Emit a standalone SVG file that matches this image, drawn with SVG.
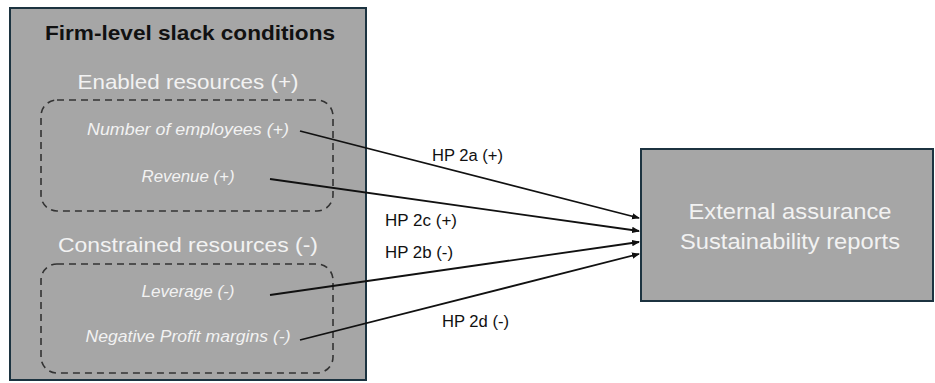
<svg xmlns="http://www.w3.org/2000/svg" width="935" height="383" viewBox="0 0 935 383">
<style>
.box{fill:#a6a6a6;stroke:#1c3340;stroke-width:2}
.dash{fill:none;stroke:#333;stroke-width:1.6;stroke-dasharray:7,5}
.t{font-family:"Liberation Sans",Arial,sans-serif;text-anchor:middle}
.light{fill:#f2f2f2}
.head{font-size:21px;font-weight:bold;fill:#111}
.sec{font-size:21px}
.item{font-size:16px;font-style:italic}
.lbl{font-size:16px;fill:#111;text-anchor:start}
.big{font-size:22px}
.conn{stroke:#111;stroke-width:1.8;fill:none;marker-end:url(#ah)}
</style>
<defs>
<marker id="ah" markerWidth="8" markerHeight="8" refX="7" refY="4" orient="auto" markerUnits="userSpaceOnUse">
<path d="M0,0.8 L8,4 L0,7.2 Z" fill="#111"/>
</marker>
</defs>
<rect width="935" height="383" fill="#fff"/>
<g id="firm-level">
<rect class="box" x="10" y="8" width="356" height="372"/>
<text class="t head" x="190" y="40" textLength="290" lengthAdjust="spacingAndGlyphs">Firm-level slack conditions</text>
</g>
<g id="enabled">
<text class="t sec light" x="188" y="89" textLength="221" lengthAdjust="spacingAndGlyphs">Enabled resources (+)</text>
<rect class="dash" x="41" y="100" width="292" height="111" rx="16"/>
</g>
<g id="employees"><text class="t item light" x="188" y="135" textLength="202" lengthAdjust="spacingAndGlyphs">Number of employees (+)</text></g>
<g id="revenue"><text class="t item light" x="188" y="182" textLength="93" lengthAdjust="spacingAndGlyphs">Revenue (+)</text></g>
<g id="constrained">
<text class="t sec light" x="188" y="252" textLength="260" lengthAdjust="spacingAndGlyphs">Constrained resources (-)</text>
<rect class="dash" x="41" y="264" width="292" height="109" rx="16"/>
</g>
<g id="leverage"><text class="t item light" x="188" y="297" textLength="93" lengthAdjust="spacingAndGlyphs">Leverage (-)</text></g>
<g id="profit"><text class="t item light" x="188" y="342" textLength="205" lengthAdjust="spacingAndGlyphs">Negative Profit margins (-)</text></g>
<g id="assurance">
<rect class="box" x="641" y="149" width="292" height="152"/>
<text class="t big light" x="790" y="219" textLength="203" lengthAdjust="spacingAndGlyphs">External assurance</text>
<text class="t big light" x="790" y="249" textLength="220" lengthAdjust="spacingAndGlyphs">Sustainability reports</text>
</g>
<g id="connectors">
<line class="conn" x1="300" y1="131" x2="639" y2="218"/>
<line class="conn" x1="270" y1="179" x2="639" y2="231"/>
<line class="conn" x1="270" y1="295" x2="639" y2="242"/>
<line class="conn" x1="300" y1="340" x2="639" y2="254"/>
<text class="t lbl" x="432" y="161" textLength="71" lengthAdjust="spacingAndGlyphs">HP 2a (+)</text>
<text class="t lbl" x="385" y="226" textLength="72" lengthAdjust="spacingAndGlyphs">HP 2c (+)</text>
<text class="t lbl" x="385" y="258" textLength="68" lengthAdjust="spacingAndGlyphs">HP 2b (-)</text>
<text class="t lbl" x="442" y="327" textLength="67" lengthAdjust="spacingAndGlyphs">HP 2d (-)</text>
</g>
</svg>
